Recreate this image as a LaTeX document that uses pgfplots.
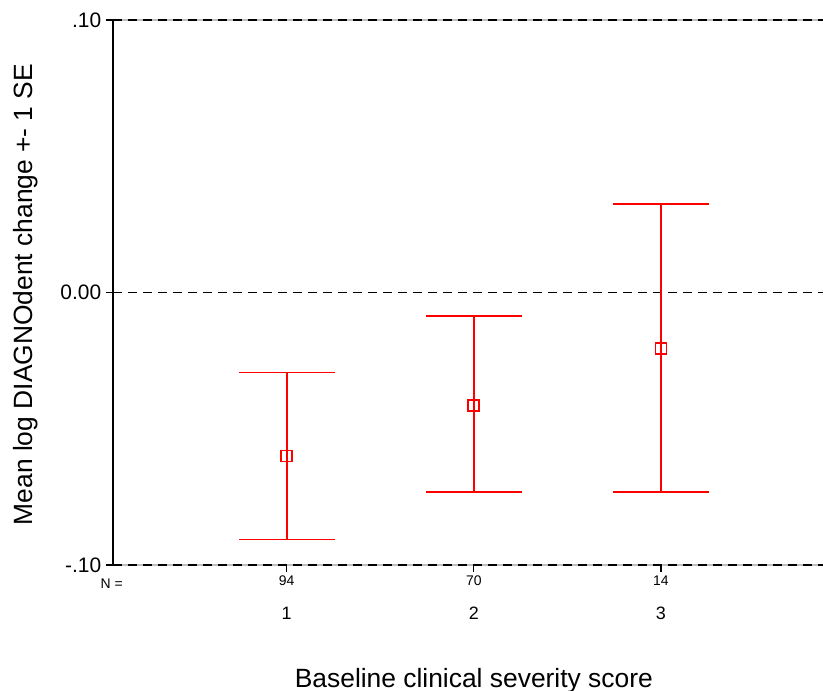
\documentclass[border=0pt]{standalone}
\usepackage{pgfplots}
\pgfplotsset{compat=1.18}
\usepackage{fontspec}
\setmainfont{Liberation Sans}
\begin{document}
\begin{tikzpicture}[x=1bp,y=1bp]
\path[use as bounding box] (0,0) rectangle (823,691);
\begin{axis}[
 at={(112.7bp,126bp)}, anchor=south west,
 scale only axis, width=710.3bp, height=545bp,
 xmin=0.07, xmax=3.866, ymin=-0.1, ymax=0.1,
 axis line style={draw=none},
 clip=false,
 xtick={1,2,3}, xticklabels={94,70,14},
 ytick={-0.1,0,0.1}, yticklabels={-.10,0.00,.10},
 tick align=outside, xtick pos=bottom, ytick pos=left,
 major tick length=7bp, tick style={black, line width=1.3bp},
 x tick label style={font=\fontsize{14}{16}\selectfont},
 y tick label style={font=\fontsize{21}{24}\selectfont, xshift=-1bp},
]
\draw[black, line width=1.7bp] (rel axis cs:0,0) -- (rel axis cs:0,1);
\draw[gray!50, line width=2bp] (rel axis cs:0,1) -- (rel axis cs:1,1);
\draw[black, line width=2bp, dash pattern=on 9bp off 6bp] (rel axis cs:0,1) -- (rel axis cs:1,1);
\draw[gray!50, line width=2bp] (rel axis cs:0,0) -- (rel axis cs:1,0);
\draw[black, line width=2bp, dash pattern=on 9bp off 6bp] (rel axis cs:0,0) -- (rel axis cs:1,0);
\draw[black, line width=1.4bp, dash pattern=on 9bp off 6bp] (axis cs:0.07,0) -- (axis cs:3.866,0);
\addplot[red, line width=1.7bp, only marks, mark=square, mark size=5.5bp,
  mark options={solid, line width=1.7bp},
  error bars/.cd, y dir=both, y explicit,
  error bar style={red, line width=1.7bp},
  error mark=-, error mark options={red, line width=1.7bp, mark size=48bp, rotate=90}]
 coordinates {
 (1,-0.0600) += (0,0.0306) -= (0,0.0306)
 (2,-0.0414) += (0,0.0329) -= (0,0.0319)
 (3,-0.0205) += (0,0.0530) -= (0,0.0528)
 };
\node[font=\fontsize{14}{16}\selectfont] at ([xshift=-1bp,yshift=-19bp]axis cs:0.07,-0.1) {N =};
\node[font=\fontsize{18}{21}\selectfont] at ([yshift=-48.5bp]axis cs:1,-0.1) {1};
\node[font=\fontsize{18}{21}\selectfont] at ([yshift=-48.5bp]axis cs:2,-0.1) {2};
\node[font=\fontsize{18}{21}\selectfont] at ([yshift=-48.5bp]axis cs:3,-0.1) {3};
\node[font=\fontsize{26.5}{30}\selectfont, anchor=base] at ([yshift=-122bp]axis cs:2,-0.1) {Baseline clinical severity score};
\node[font=\fontsize{26.5}{30}\selectfont, anchor=base, rotate=90] at ([xshift=-79.7bp, yshift=-2bp]rel axis cs:0,0.5) {Mean log DIAGNOdent change +- 1 SE};
\end{axis}
\end{tikzpicture}
\end{document}
